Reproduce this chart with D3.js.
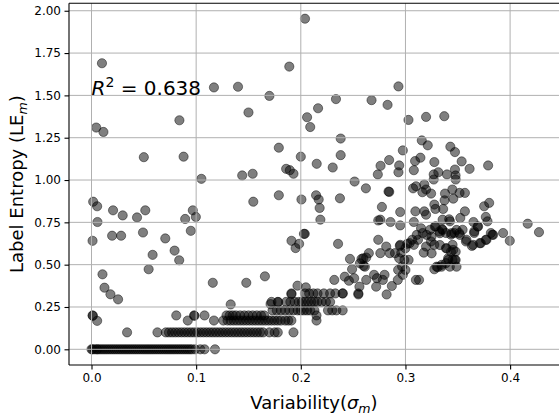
<!DOCTYPE html>
<html>
<head>
<meta charset="utf-8">
<script src="https://cdn.jsdelivr.net/npm/d3@7"></script>
<style>
  html, body { margin: 0; padding: 0; background: #fff; }
  svg { display: block; }
  text { font-family: "DejaVu Sans", sans-serif; fill: #000; }
</style>
</head>
<body>
<svg id="chart" width="559" height="414"></svg>
<script>
// ---------- data ----------
const xTicks = [0.0, 0.1, 0.2, 0.3, 0.4];
const yTicks = [0.00, 0.25, 0.50, 0.75, 1.00, 1.25, 1.50, 1.75, 2.00];
const xLabel = "Variability";
const yLabel = "Label Entropy (LE";
const r2Text = "0.638";

// points sitting on the 0.00 entropy level (x values)
const levelZeroX = [0.000,0.001,0.003,0.005,0.006,0.008,0.010,0.012,0.014,0.016,0.018,0.020,0.022,0.024,0.026,0.028,0.030,0.032,0.034,0.036,0.038,0.040,0.042,0.044,0.046,0.048,0.050,0.052,0.054,0.056,0.058,0.060,0.062,0.064,0.066,0.068,0.070,0.072,0.074,0.076,0.078,0.080,0.082,0.084,0.086,0.088,0.090,0.092,0.094,0.096,0.099,0.104,0.108,0.118];
// points on the ~0.10 level
const levelTenthX = [0.034,0.063,0.071,0.074,0.077,0.080,0.083,0.086,0.089,0.092,0.095,0.098,0.101,0.104,0.107,0.110,0.113,0.116,0.119,0.122,0.125,0.128,0.131,0.134,0.137,0.140,0.143,0.146,0.149,0.152,0.155,0.158,0.161,0.164,0.170,0.175,0.178,0.193];
// points on the ~0.17 level
const levelA_X = [0.092,0.117,0.126,0.130,0.133,0.136,0.139,0.142,0.145,0.148,0.151,0.154,0.157,0.160,0.163,0.166,0.169,0.172,0.175,0.178,0.181,0.185,0.188,0.191,0.215];
// points on the ~0.20 level
const levelB_X = [0.001,0.081,0.098,0.108,0.129,0.132,0.135,0.138,0.142,0.146,0.150,0.154,0.158,0.162,0.165,0.215];
// points on the ~0.23 level
const levelC_X = [0.173,0.177,0.181,0.185,0.189,0.193,0.197,0.200,0.203,0.206,0.209,0.213,0.226,0.230,0.234,0.240];
// points on the ~0.28 level
const levelD_X = [0.172,0.178,0.186,0.190,0.194,0.198,0.201,0.204,0.207,0.210,0.213,0.216,0.220,0.224,0.228];
// points on the ~0.33 level
const levelE_X = [0.191,0.204,0.208,0.212,0.216,0.222,0.228,0.233,0.240,0.255];
const levelValues = [0.0, 0.10, 0.17, 0.20, 0.23, 0.28, 0.33];

// scattered points [sigma, entropy]
const sparsePoints = [
  [0.204,1.953],[0.010,1.690],[0.189,1.670],[0.117,1.547],[0.140,1.551],[0.170,1.497],[0.150,1.399],
  [0.206,1.371],[0.209,1.313],[0.0045,1.310],[0.0114,1.284],[0.084,1.353],[0.050,1.135],[0.088,1.138],
  [0.179,1.191],[0.200,1.138],[0.105,1.007],[0.144,1.027],[0.154,1.037],[0.186,1.066],[0.1895,1.058],
  [0.193,1.037],[0.179,0.910],[0.2006,0.885],[0.1546,0.872],[0.0016,0.872],
  [0.2933,1.553],[0.2336,1.478],[0.2676,1.472],[0.2829,1.444],[0.2165,1.424],
  [0.3029,1.355],[0.3197,1.373],[0.3371,1.377],[0.2381,1.245],[0.2975,1.175],[0.3156,1.234],[0.3213,1.205],
  [0.3429,1.197],[0.3473,1.165],[0.2381,1.147],[0.2152,1.096],[0.2305,1.074],[0.2844,1.118],[0.2762,1.084],
  [0.294,1.086],[0.3092,1.112],[0.3143,1.132],[0.3276,1.106],[0.3537,1.110],[0.3613,1.066],[0.379,1.086],
  [0.2933,1.046],[0.2736,1.033],[0.308,1.058],[0.3314,1.046],[0.3397,1.033],[0.3473,1.062],[0.3479,1.027],
  [0.327,1.003],[0.327,1.033],[0.348,1.003],[0.2514,0.991],[0.2622,0.951],[0.2838,0.932],[0.2845,0.930],
  [0.3073,0.951],[0.3101,0.963],[0.318,0.973],[0.3197,0.944],[0.3162,0.928],[0.3245,0.920],[0.3378,0.920],
  [0.3448,0.944],[0.3517,0.924],[0.3568,0.924],[0.2146,0.910],[0.2171,0.885],[0.2374,0.892],
  [0.0054,0.845],[0.0206,0.821],[0.0298,0.791],[0.0435,0.779],[0.0514,0.821],[0.0057,0.752],[0.0968,0.821],
  [0.0997,0.782],[0.0895,0.770],[0.001,0.641],[0.0197,0.671],[0.0283,0.671],[0.0492,0.690],[0.0949,0.700],
  [0.0705,0.655],[0.0794,0.583],[0.0838,0.526],[0.0584,0.558],[0.0546,0.473],[0.0105,0.443],[0.0124,0.364],
  [0.0181,0.325],[0.0254,0.295],[0.1159,0.393],[0.1479,0.393],[0.1657,0.431],[0.1911,0.641],[0.195,0.598],
  [0.1984,0.623],[0.2038,0.682],[0.1968,0.376],[0.2048,0.366],[0.1911,0.326],[0.1711,0.267],[0.1784,0.279],
  [0.133,0.265],[0.0013,0.198],[0.0054,0.168],[0.0984,0.198],
  [0.232,0.41],[0.242,0.429],[0.246,0.405],[0.249,0.473],[0.251,0.42],[0.247,0.534],[0.24,0.33],[0.255,0.324],
  [0.256,0.37],[0.258,0.534],[0.26,0.493],[0.2625,0.542],[0.265,0.568],[0.2625,0.41],[0.27,0.44],[0.272,0.37],
  [0.2727,0.42],[0.28,0.44],[0.276,0.568],[0.2816,0.607],[0.285,0.568],[0.29,0.568],[0.274,0.647],[0.2784,0.41],
  [0.282,0.324],[0.287,0.374],[0.2927,0.41],[0.295,0.617],[0.296,0.571],[0.300,0.597],[0.304,0.627],[0.294,0.538],
  [0.299,0.528],[0.303,0.528],[0.293,0.469],[0.300,0.469],[0.2975,0.44],[0.310,0.41],[0.313,0.41],[0.308,0.617],
  [0.312,0.647],[0.3165,0.687],[0.3235,0.706],[0.329,0.726],[0.335,0.71],[0.3175,0.571],[0.3197,0.607],
  [0.3244,0.637],[0.3276,0.617],[0.3276,0.473],[0.3308,0.485],[0.3346,0.499],[0.3387,0.509],[0.341,0.528],
  [0.345,0.528],[0.348,0.528],[0.3387,0.597],[0.3435,0.577],[0.345,0.617],[0.348,0.577],[0.3324,0.696],
  [0.3387,0.687],[0.3435,0.677],[0.3467,0.687],[0.3514,0.687],[0.3546,0.706],[0.3578,0.637],[0.3635,0.611],
  [0.3657,0.687],[0.372,0.627],[0.3768,0.647],[0.383,0.677],[0.3933,0.687],[0.3997,0.641],[0.4168,0.742],
  [0.4276,0.692],[0.274,0.761],[0.276,0.766],[0.2857,0.752],[0.295,0.811],[0.295,0.732],[0.2775,0.841],
  [0.308,0.752],[0.3095,0.815],[0.318,0.815],[0.3197,0.795],[0.3276,0.855],[0.3286,0.829],[0.336,0.829],
  [0.3374,0.880],[0.3457,0.890],[0.3355,0.766],[0.3425,0.756],[0.3524,0.776],[0.3568,0.815],[0.365,0.752],
  [0.3689,0.726],[0.3752,0.845],[0.3768,0.782],[0.380,0.865],[0.3784,0.756],[0.3657,0.696],[0.3816,0.687],
  [0.2356,0.623],[0.218,0.835],[0.2187,0.766],[0.203,0.682],
  [0.2946,0.611],[0.3017,0.623],[0.3065,0.647],[0.2968,0.489],[0.3108,0.676],[0.3149,0.715],[0.3202,0.676],
  [0.3249,0.666],[0.3281,0.725],[0.3329,0.686],[0.3354,0.705],[0.3418,0.768],[0.344,0.686],[0.3488,0.705],
  [0.352,0.676],[0.3583,0.647],[0.3647,0.617],[0.3694,0.725],[0.371,0.627],[0.3774,0.647],[0.3838,0.676],
  [0.325,0.567],[0.3329,0.616],[0.3393,0.597],[0.3408,0.538],[0.3456,0.587],[0.3472,0.528],[0.3424,0.488],
  [0.3488,0.488],[0.3345,0.488],[0.3297,0.488],[0.2597,0.538],[0.2565,0.508],[0.2612,0.488]
];

// ---------- build the point table ----------
const levelGroups = [levelZeroX, levelTenthX, levelA_X, levelB_X, levelC_X, levelD_X, levelE_X];
const points = [];
levelGroups.forEach((xs, i) => xs.forEach(v => points.push([v, levelValues[i]])));
sparsePoints.forEach(p => points.push(p));

// ---------- layout ----------
const svg = d3.select("#chart");
const pLeft = 69, pRight = 564, pTop = 3.3, pBottom = 365;

const x = d3.scaleLinear().domain([-0.0215, 0.4515]).range([pLeft, pRight]);
const y = d3.scaleLinear().domain([-0.0927, 2.044]).range([pBottom, pTop]);

svg.append("defs").append("clipPath").attr("id", "plotclip")
  .append("rect").attr("x", pLeft).attr("y", pTop).attr("width", pRight - pLeft).attr("height", pBottom - pTop);

// points
svg.append("g").attr("clip-path", "url(#plotclip)")
  .selectAll("circle").data(points).enter().append("circle")
  .attr("cx", d => x(d[0]))
  .attr("cy", d => y(d[1]))
  .attr("r", 4.6)
  .attr("fill", "#000").attr("fill-opacity", 0.5)
  .attr("stroke", "#000").attr("stroke-opacity", 0.5).attr("stroke-width", 0.9);

// grid (drawn above the points, like matplotlib)
const grid = svg.append("g");
grid.selectAll("line.vx").data(xTicks).enter().append("line")
  .attr("x1", d => x(d)).attr("x2", d => x(d)).attr("y1", pTop).attr("y2", pBottom)
  .attr("stroke", "#b0b0b0").attr("stroke-width", 1);
grid.selectAll("line.hy").data(yTicks).enter().append("line")
  .attr("x1", pLeft).attr("x2", pRight).attr("y1", d => y(d)).attr("y2", d => y(d))
  .attr("stroke", "#b0b0b0").attr("stroke-width", 1);

// axes
const xAxis = d3.axisBottom(x).tickValues(xTicks).tickFormat(d3.format(".1f")).tickSize(4.5).tickPadding(4);
const yAxis = d3.axisLeft(y).tickValues(yTicks).tickFormat(d3.format(".2f")).tickSize(4.5).tickPadding(3.5);

const gx = svg.append("g").attr("transform", `translate(0,${pBottom})`).call(xAxis);
const gy = svg.append("g").attr("transform", `translate(${pLeft},0)`).call(yAxis);
[gx, gy].forEach(g => {
  g.select(".domain").remove();
  g.selectAll("line").attr("stroke", "#000").attr("stroke-width", 1.1);
  g.selectAll("text").attr("font-family", "DejaVu Sans").attr("font-size", 12).attr("fill", "#000");
});

// spines (left, top, bottom; right lies outside the picture)
const sp = svg.append("g").attr("stroke", "#000").attr("stroke-width", 1.1).attr("fill", "none");
sp.append("line").attr("x1", pLeft).attr("x2", pLeft).attr("y1", pTop).attr("y2", pBottom);
sp.append("line").attr("x1", pLeft).attr("x2", pRight).attr("y1", pTop).attr("y2", pTop);
sp.append("line").attr("x1", pLeft).attr("x2", pRight).attr("y1", pBottom).attr("y2", pBottom);

// x label
const xl = svg.append("text").attr("x", (pLeft + 559) / 2).attr("y", 409)
  .attr("text-anchor", "middle").attr("font-size", 18);
xl.append("tspan").text(xLabel + "(");
xl.append("tspan").attr("font-style", "italic").text("σ");
xl.append("tspan").attr("font-style", "italic").attr("font-size", 12.6).attr("dy", 3.5).text("m");
xl.append("tspan").attr("dy", -3.5).text(")");

// y label
const yl = svg.append("text")
  .attr("transform", `translate(23,${(pTop + pBottom) / 2}) rotate(-90)`)
  .attr("text-anchor", "middle").attr("font-size", 18);
yl.append("tspan").text(yLabel);
yl.append("tspan").attr("font-style", "italic").attr("font-size", 12.6).attr("dy", 3.5).text("m");
yl.append("tspan").attr("dy", -3.5).text(")");

// R^2 annotation at data position (0, 1.5)
const rt = svg.append("text").attr("x", x(0)).attr("y", y(1.5)).attr("font-size", 20);
rt.append("tspan").attr("font-style", "italic").text("R");
rt.append("tspan").attr("font-size", 14).attr("dy", -8).text("2");
rt.append("tspan").attr("dy", 8).text(" = " + r2Text);
</script>
</body>
</html>
